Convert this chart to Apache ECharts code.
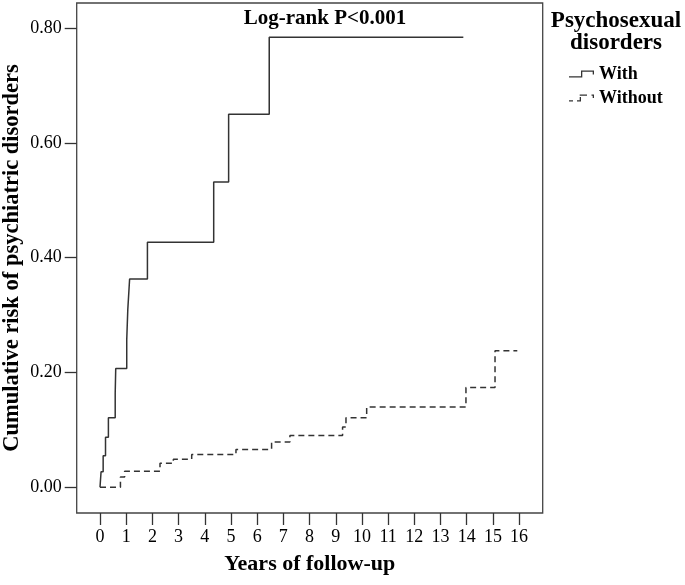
<!DOCTYPE html>
<html>
<head>
<meta charset="utf-8">
<script src="https://cdn.jsdelivr.net/npm/echarts@6/dist/echarts.min.js"></script>
<style>
html,body{margin:0;padding:0;background:#fff;}
#chart{width:685px;height:585px;}
</style>
</head>
<body>
<div id="chart"></div>
<script>
// Kaplan-Meier cumulative risk (step data)
var withTimes = [0, 0.04, 0.12, 0.21, 0.32, 0.58, 0.60, 1.02, 1.06, 1.13, 1.81, 4.34, 4.91, 6.46, 13.87];
var withRisk  = [0, 0.027, 0.055, 0.087, 0.121, 0.164, 0.207, 0.257, 0.309, 0.363, 0.427, 0.532, 0.650, 0.784, 0.784];
var withoutTimes = [0, 0.78, 0.94, 2.29, 2.80, 3.50, 5.19, 6.55, 7.25, 9.26, 9.39, 10.18, 13.97, 15.08, 15.93];
var withoutRisk  = [0, 0.018, 0.028, 0.042, 0.049, 0.057, 0.066, 0.079, 0.090, 0.105, 0.121, 0.140, 0.174, 0.238, 0.238];
var xTicks = [0,1,2,3,4,5,6,7,8,9,10,11,12,13,14,15,16];
var yTicks = [0, 0.2, 0.4, 0.6, 0.8];
var seriesNames = ['With', 'Without'];
var legendTitle = 'Psychosexual\ndisorders';
var annotation = 'Log-rank P<0.001';
var xTitle = 'Years of follow-up';
var yTitle = 'Cumulative risk of psychiatric disorders';

function pairs(xs, ys) { return xs.map(function (x, i) { return [x, ys[i]]; }); }

var FONT = '"Liberation Serif", "Times New Roman", serif';
var chart = echarts.init(document.getElementById('chart'), null, {renderer: 'canvas'});
var solidIcon = 'path://M0,57 H120 V0 H250 V40 H237 V13 H133 V70 H0 Z';
var dashIcon = 'path://M0,57 H40 V70 H0 Z M80,57 H120 V70 H80 Z M107,25 H120 V57 H107 Z M107,0 H180 V13 H107 Z M225,0 H250 V13 H225 Z M237,13 H250 V35 H237 Z';

chart.setOption({
  animation: false,
  backgroundColor: '#fff',
  title: [
    {text: annotation, left: 325, textAlign: 'center', top: 8, padding: 0,
     textStyle: {fontFamily: FONT, fontWeight: 'bold', fontSize: 21, color: '#000'}},
    {text: legendTitle, left: 616, textAlign: 'center', top: 10, padding: 0,
     textStyle: {fontFamily: FONT, fontWeight: 'bold', fontSize: 23, lineHeight: 22, color: '#000', align: 'center'}}
  ],
  legend: {
    orient: 'vertical', left: 569, top: 65, padding: 0,
    itemWidth: 25, itemHeight: 7, itemGap: 6,
    itemStyle: {borderWidth: 0},
    textStyle: {fontFamily: FONT, fontWeight: 'bold', fontSize: 18, lineHeight: 18, color: '#000'},
    data: [{name: seriesNames[0], icon: solidIcon}, {name: seriesNames[1], icon: dashIcon}]
  },
  grid: {left: 76.7, top: 3, right: 142.3, bottom: 72, show: true, borderColor: '#444', borderWidth: 1.3,
    containLabel: false, outerBoundsMode: 'none'},
  xAxis: {
    type: 'value', min: -0.89, max: 16.9,
    name: xTitle, nameLocation: 'middle', nameGap: 40, nameMoveOverlap: false,
    nameTextStyle: {fontFamily: FONT, fontWeight: 'bold', fontSize: 22, color: '#000'},
    axisLine: {show: false, onZero: false},
    axisTick: {show: true, inside: false, length: 12, customValues: xTicks, lineStyle: {color: '#333', width: 1.3}},
    axisLabel: {customValues: xTicks, margin: 15, fontFamily: FONT, fontSize: 18, color: '#000'},
    splitLine: {show: false}
  },
  yAxis: {
    type: 'value', min: -0.0448, max: 0.8437,
    name: yTitle, nameLocation: 'middle', nameGap: 53, nameRotate: 90, nameMoveOverlap: false,
    nameTextStyle: {fontFamily: FONT, fontWeight: 'bold', fontSize: 22.5, color: '#000'},
    axisLine: {show: false, onZero: false},
    axisTick: {show: true, inside: false, length: 12, customValues: yTicks, lineStyle: {color: '#333', width: 1.3}},
    axisLabel: {customValues: yTicks, margin: 15, fontFamily: FONT, fontSize: 18, color: '#000',
      formatter: function (v) { return v.toFixed(2); }},
    splitLine: {show: false}
  },
  series: [
    {name: seriesNames[0], type: 'line', step: 'end', showSymbol: false, symbol: 'none',
     color: '#333', lineStyle: {color: '#333', width: 1.5, type: 'solid'},
     data: pairs(withTimes, withRisk)},
    {name: seriesNames[1], type: 'line', step: 'end', showSymbol: false, symbol: 'none',
     color: '#333', lineStyle: {color: '#333', width: 1.5, type: [6, 4]},
     data: pairs(withoutTimes, withoutRisk)}
  ]
});
</script>
</body>
</html>
